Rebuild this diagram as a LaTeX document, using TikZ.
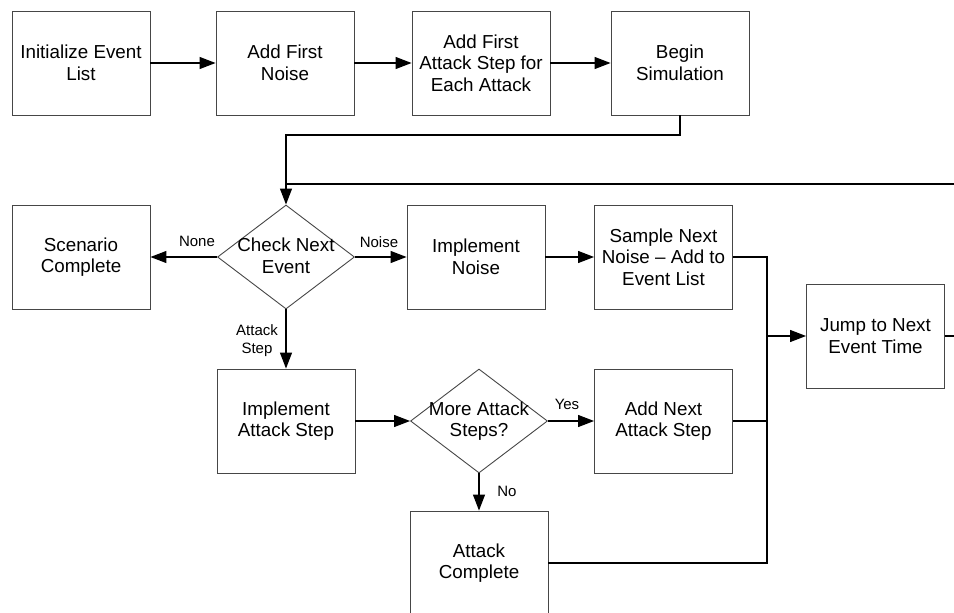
\documentclass[tikz,border=0pt]{standalone}
\usepackage{fontspec}
\setmainfont{Liberation Sans}
\usetikzlibrary{arrows.meta,shapes.geometric}
\definecolor{boxline}{RGB}{70,70,70}
\begin{document}
\begin{tikzpicture}[x=1pt,y=-1pt,
  box/.style={draw=boxline,line width=0.9pt,minimum width=138pt,minimum height=104pt,
    inner sep=0pt,align=center,font=\fontsize{18.8}{21.7}\selectfont},
  decision/.style={draw=boxline,line width=0.9pt,diamond,minimum width=137pt,
    minimum height=104pt,inner sep=0pt},
  dtext/.style={align=center,font=\fontsize{18.8}{21.7}\selectfont,inner sep=0pt},
  tag/.style={align=center,font=\fontsize{15}{17.8}\selectfont,inner sep=0pt},
  flow/.style={line width=1.2pt,-{Triangle[length=16pt,width=12pt]}},
  link/.style={line width=1.2pt}]
\useasboundingbox (0,0) rectangle (954,613);

% top row
\node[box] (init)    at (81,63)  {Initialize Event\\List};
\node[box] (fnoise)  at (285,63) {Add First\\Noise};
\node[box] (fattack) at (481,63) {Add First\\Attack Step for\\Each Attack};
\node[box] (begin)   at (680,63) {Begin\\Simulation};

% middle row
\node[box] (scen)  at (81,257)  {Scenario\\Complete};
\node[decision] (check) at (286,257) {};
\node[dtext] (checkt) at (286,256) {Check Next\\Event};
\node[box] (inoise) at (476,257) {Implement\\Noise};
\node[box] (snoise) at (663.5,257) {Sample Next\\Noise -- Add to\\Event List};
\node[box] (jump)   at (875.5,336) {Jump to Next\\Event Time};

% lower rows
\node[box] (iattack) at (286,421) {Implement\\Attack Step};
\node[decision] (more) at (479,421) {};
\node[dtext] (moret) at (479,421) {More Attack\\Steps?};
\node[box] (nattack) at (663.5,421) {Add Next\\Attack Step};
\node[box] (acomp)   at (479,563) {Attack\\Complete};

% junction points
\coordinate (bturn) at (680,135);
\coordinate (lturn) at (286,135);
\coordinate (bus)   at (767,336);
\coordinate (busT)  at (767,257);
\coordinate (busN)  at (767,421);
\coordinate (busB)  at (767,563);
\coordinate (loopA) at (962,336);
\coordinate (loopB) at (962,184);
\coordinate (loopC) at (286,184);

% top row flow
\draw[flow] (init) -- (fnoise);
\draw[flow] (fnoise) -- (fattack);
\draw[flow] (fattack) -- (begin);
\draw[flow] (begin.south) -- (bturn) -- (lturn) -- (check.north);

% event dispatch
\draw[flow] (check.west) -- (scen.east);
\draw[flow] (check.east) -- (inoise.west);
\draw[flow] (check.south) -- (iattack.north);
\node[tag] (lnone)  at (197,241) {None};
\node[tag] (lnoise) at (379,242) {Noise};
\node[tag] (lstep)  at (257,341) {Attack\\Step};

% noise branch
\draw[flow] (inoise.east) -- (snoise.west);
\draw[link] (snoise.east) -- (busT) -- (busB) -- (acomp.east);
\draw[link] (nattack.east) -- (busN);
\draw[flow] (bus) -- (jump.west);

% attack branch
\draw[flow] (iattack.east) -- (more.west);
\draw[flow] (more.east) -- (nattack.west);
\draw[flow] (more.south) -- (acomp.north);
\node[tag] (lyes) at (567,404) {Yes};
\node[tag] (lno)  at (507,491) {No};

% return loop to the event check
\draw[link] (jump.east) -- (loopA) -- (loopB) -- (loopC);
\end{tikzpicture}
\end{document}
